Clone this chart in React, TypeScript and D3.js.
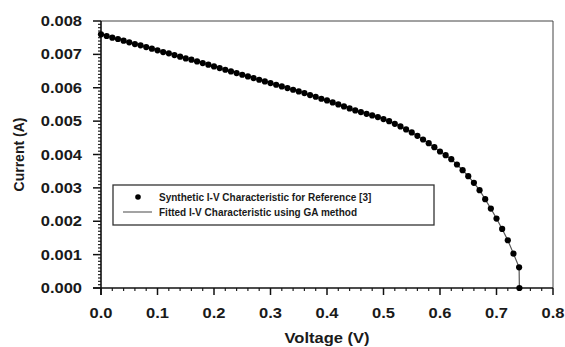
import React, { useEffect, useRef } from 'react';
import * as d3 from 'd3';

// synthetic I-V points (V, A)
const voltage = [
  0.00, 0.01, 0.02, 0.03, 0.04, 0.05, 0.06, 0.07, 0.08, 0.09,
  0.10, 0.11, 0.12, 0.13, 0.14, 0.15, 0.16, 0.17, 0.18, 0.19,
  0.20, 0.21, 0.22, 0.23, 0.24, 0.25, 0.26, 0.27, 0.28, 0.29,
  0.30, 0.31, 0.32, 0.33, 0.34, 0.35, 0.36, 0.37, 0.38, 0.39,
  0.40, 0.41, 0.42, 0.43, 0.44, 0.45, 0.46, 0.47, 0.48, 0.49,
  0.50, 0.51, 0.52, 0.53, 0.54, 0.55, 0.56, 0.57, 0.58, 0.59,
  0.60, 0.61, 0.62, 0.63, 0.64, 0.65, 0.66, 0.67, 0.68, 0.69,
  0.70, 0.71, 0.72, 0.73, 0.74, 0.7405,
];
const current = [
  0.00760, 0.00755, 0.00750, 0.00746, 0.00741, 0.00736, 0.00731, 0.00727, 0.00722, 0.00717,
  0.00712, 0.00707, 0.00703, 0.00698, 0.00693, 0.00688, 0.00684, 0.00679, 0.00674, 0.00669,
  0.00664, 0.00659, 0.00654, 0.00649, 0.00644, 0.00639, 0.00634, 0.00629, 0.00624, 0.00619,
  0.00614, 0.00609, 0.00604, 0.00599, 0.00594, 0.00589, 0.00584, 0.00578, 0.00573, 0.00567,
  0.00562, 0.00556, 0.00550, 0.00544, 0.00538, 0.00532, 0.00527, 0.00522, 0.00517, 0.00512,
  0.00506, 0.00500, 0.00492, 0.00484, 0.00475, 0.00466, 0.00456, 0.00445, 0.00434, 0.00422,
  0.00409, 0.00398, 0.00386, 0.00370, 0.00353, 0.00335, 0.00315, 0.00293, 0.00266, 0.00238,
  0.00208, 0.00177, 0.00143, 0.00103, 0.00062, 0.00000,
];

const xTicks = [0, 0.1, 0.2, 0.3, 0.4, 0.5, 0.6, 0.7, 0.8];
const yTicks = [0, 0.001, 0.002, 0.003, 0.004, 0.005, 0.006, 0.007, 0.008];
const legendLabels = [
  'Synthetic I-V Characteristic for Reference [3]',
  'Fitted I-V Characteristic using GA method',
];

const W = 565;
const H = 347;
const margin = { top: 21, right: 12, bottom: 59, left: 101 };
const font = 'Liberation Sans, Arial, sans-serif';
const stretch = 1.18;

const App = () => {
  const svgRef = useRef<SVGSVGElement>(null);

  useEffect(() => {
    const svg = d3.select(svgRef.current);
    svg.selectAll('*').remove();

    const x0 = margin.left;
    const x1 = W - margin.right;
    const y0 = H - margin.bottom;
    const y1 = margin.top;

    const x = d3.scaleLinear().domain([0, 0.8]).range([x0, x1]);
    const y = d3.scaleLinear().domain([0, 0.008]).range([y0, y1]);

    const data = voltage.map((v, i) => ({ v, i: current[i] }));

    // frame
    svg.append('line').attr('x1', x0).attr('x2', x1).attr('y1', y1).attr('y2', y1)
      .attr('stroke', '#444').attr('stroke-width', 1);
    svg.append('line').attr('x1', x1).attr('x2', x1).attr('y1', y1).attr('y2', y0)
      .attr('stroke', '#444').attr('stroke-width', 1);

    // minor ticks
    const xMinor = d3.range(0, 41).map(k => k * 0.02).filter((_, k) => k % 5 !== 0);
    const yMinor = d3.range(0, 81).map(k => k * 0.0001).filter((_, k) => k % 10 !== 0);

    svg.append('g').selectAll('line').data(xMinor).join('line')
      .attr('x1', d => x(d)).attr('x2', d => x(d))
      .attr('y1', y0).attr('y2', y0 + 3)
      .attr('stroke', '#222').attr('stroke-width', 1.2);
    svg.append('g').selectAll('line').data(yMinor).join('line')
      .attr('x1', x0 - 3).attr('x2', x0)
      .attr('y1', d => y(d)).attr('y2', d => y(d))
      .attr('stroke', '#222').attr('stroke-width', 1.2);

    // major ticks
    svg.append('g').selectAll('line').data(xTicks).join('line')
      .attr('x1', d => x(d)).attr('x2', d => x(d))
      .attr('y1', y0).attr('y2', y0 + 7)
      .attr('stroke', '#111').attr('stroke-width', 1.5);
    svg.append('g').selectAll('line').data(yTicks).join('line')
      .attr('x1', x0 - 8).attr('x2', x0)
      .attr('y1', d => y(d)).attr('y2', d => y(d))
      .attr('stroke', '#111').attr('stroke-width', 1.5);

    // axes
    svg.append('line').attr('x1', x0 - 8).attr('x2', x1).attr('y1', y0).attr('y2', y0)
      .attr('stroke', '#111').attr('stroke-width', 1.6);
    svg.append('line').attr('x1', x0).attr('x2', x0).attr('y1', y1).attr('y2', y0 + 7)
      .attr('stroke', '#111').attr('stroke-width', 1.6);

    // tick labels
    svg.append('g').selectAll('text').data(xTicks).join('text')
      .attr('transform', d => `translate(${x(d)},${y0 + 30}) scale(${stretch},1)`)
      .attr('text-anchor', 'middle')
      .style('font-family', font).style('font-weight', 700).style('font-size', '14px')
      .attr('fill', '#1a1a1a')
      .text(d => d3.format('.1f')(d));
    svg.append('g').selectAll('text').data(yTicks).join('text')
      .attr('transform', d => `translate(${x0 - 19},${y(d) + 5}) scale(${stretch},1)`)
      .attr('text-anchor', 'end')
      .style('font-family', font).style('font-weight', 700).style('font-size', '14px')
      .attr('fill', '#1a1a1a')
      .text(d => d3.format('.3f')(d));

    // axis titles
    svg.append('text')
      .attr('transform', `translate(${(x0 + x1) / 2},343) scale(${stretch},1)`)
      .attr('text-anchor', 'middle')
      .style('font-family', font).style('font-weight', 700).style('font-size', '14px')
      .attr('fill', '#1a1a1a')
      .text('Voltage (V)');
    svg.append('text')
      .attr('transform', `translate(24,${(y0 + y1) / 2}) rotate(-90)`)
      .attr('text-anchor', 'middle')
      .style('font-family', font).style('font-weight', 700).style('font-size', '14px')
      .attr('fill', '#1a1a1a')
      .text('Current (A)');

    // fitted line
    const line = d3.line<{ v: number; i: number }>().x(d => x(d.v)).y(d => y(d.i));
    svg.append('path').datum(data)
      .attr('d', line)
      .attr('fill', 'none').attr('stroke', '#555').attr('stroke-width', 1.2);

    // synthetic points
    svg.append('g').selectAll('circle').data(data).join('circle')
      .attr('cx', d => x(d.v)).attr('cy', d => y(d.i))
      .attr('r', 3.1).attr('fill', '#000');

    // legend
    const lg = svg.append('g').attr('transform', 'translate(113,185)');
    lg.append('rect').attr('width', 321).attr('height', 40)
      .attr('fill', '#fff').attr('stroke', '#333').attr('stroke-width', 1.3);
    lg.append('circle').attr('cx', 25).attr('cy', 12).attr('r', 2.8).attr('fill', '#000');
    lg.append('line').attr('x1', 10).attr('x2', 39).attr('y1', 27).attr('y2', 27)
      .attr('stroke', '#666').attr('stroke-width', 1.2);
    lg.selectAll('text.lab').data(legendLabels).join('text')
      .attr('class', 'lab')
      .attr('x', 46).attr('y', (d, k) => 15.5 + k * 15)
      .style('font-family', font).style('font-weight', 700).style('font-size', '10px')
      .attr('fill', '#1a1a1a')
      .text(d => d);
  }, []);

  return (
    <svg
      ref={svgRef}
      width={W}
      height={H}
      style={{ position: 'absolute', left: 0, top: 0, background: '#fff' }}
    />
  );
};

export default App;
